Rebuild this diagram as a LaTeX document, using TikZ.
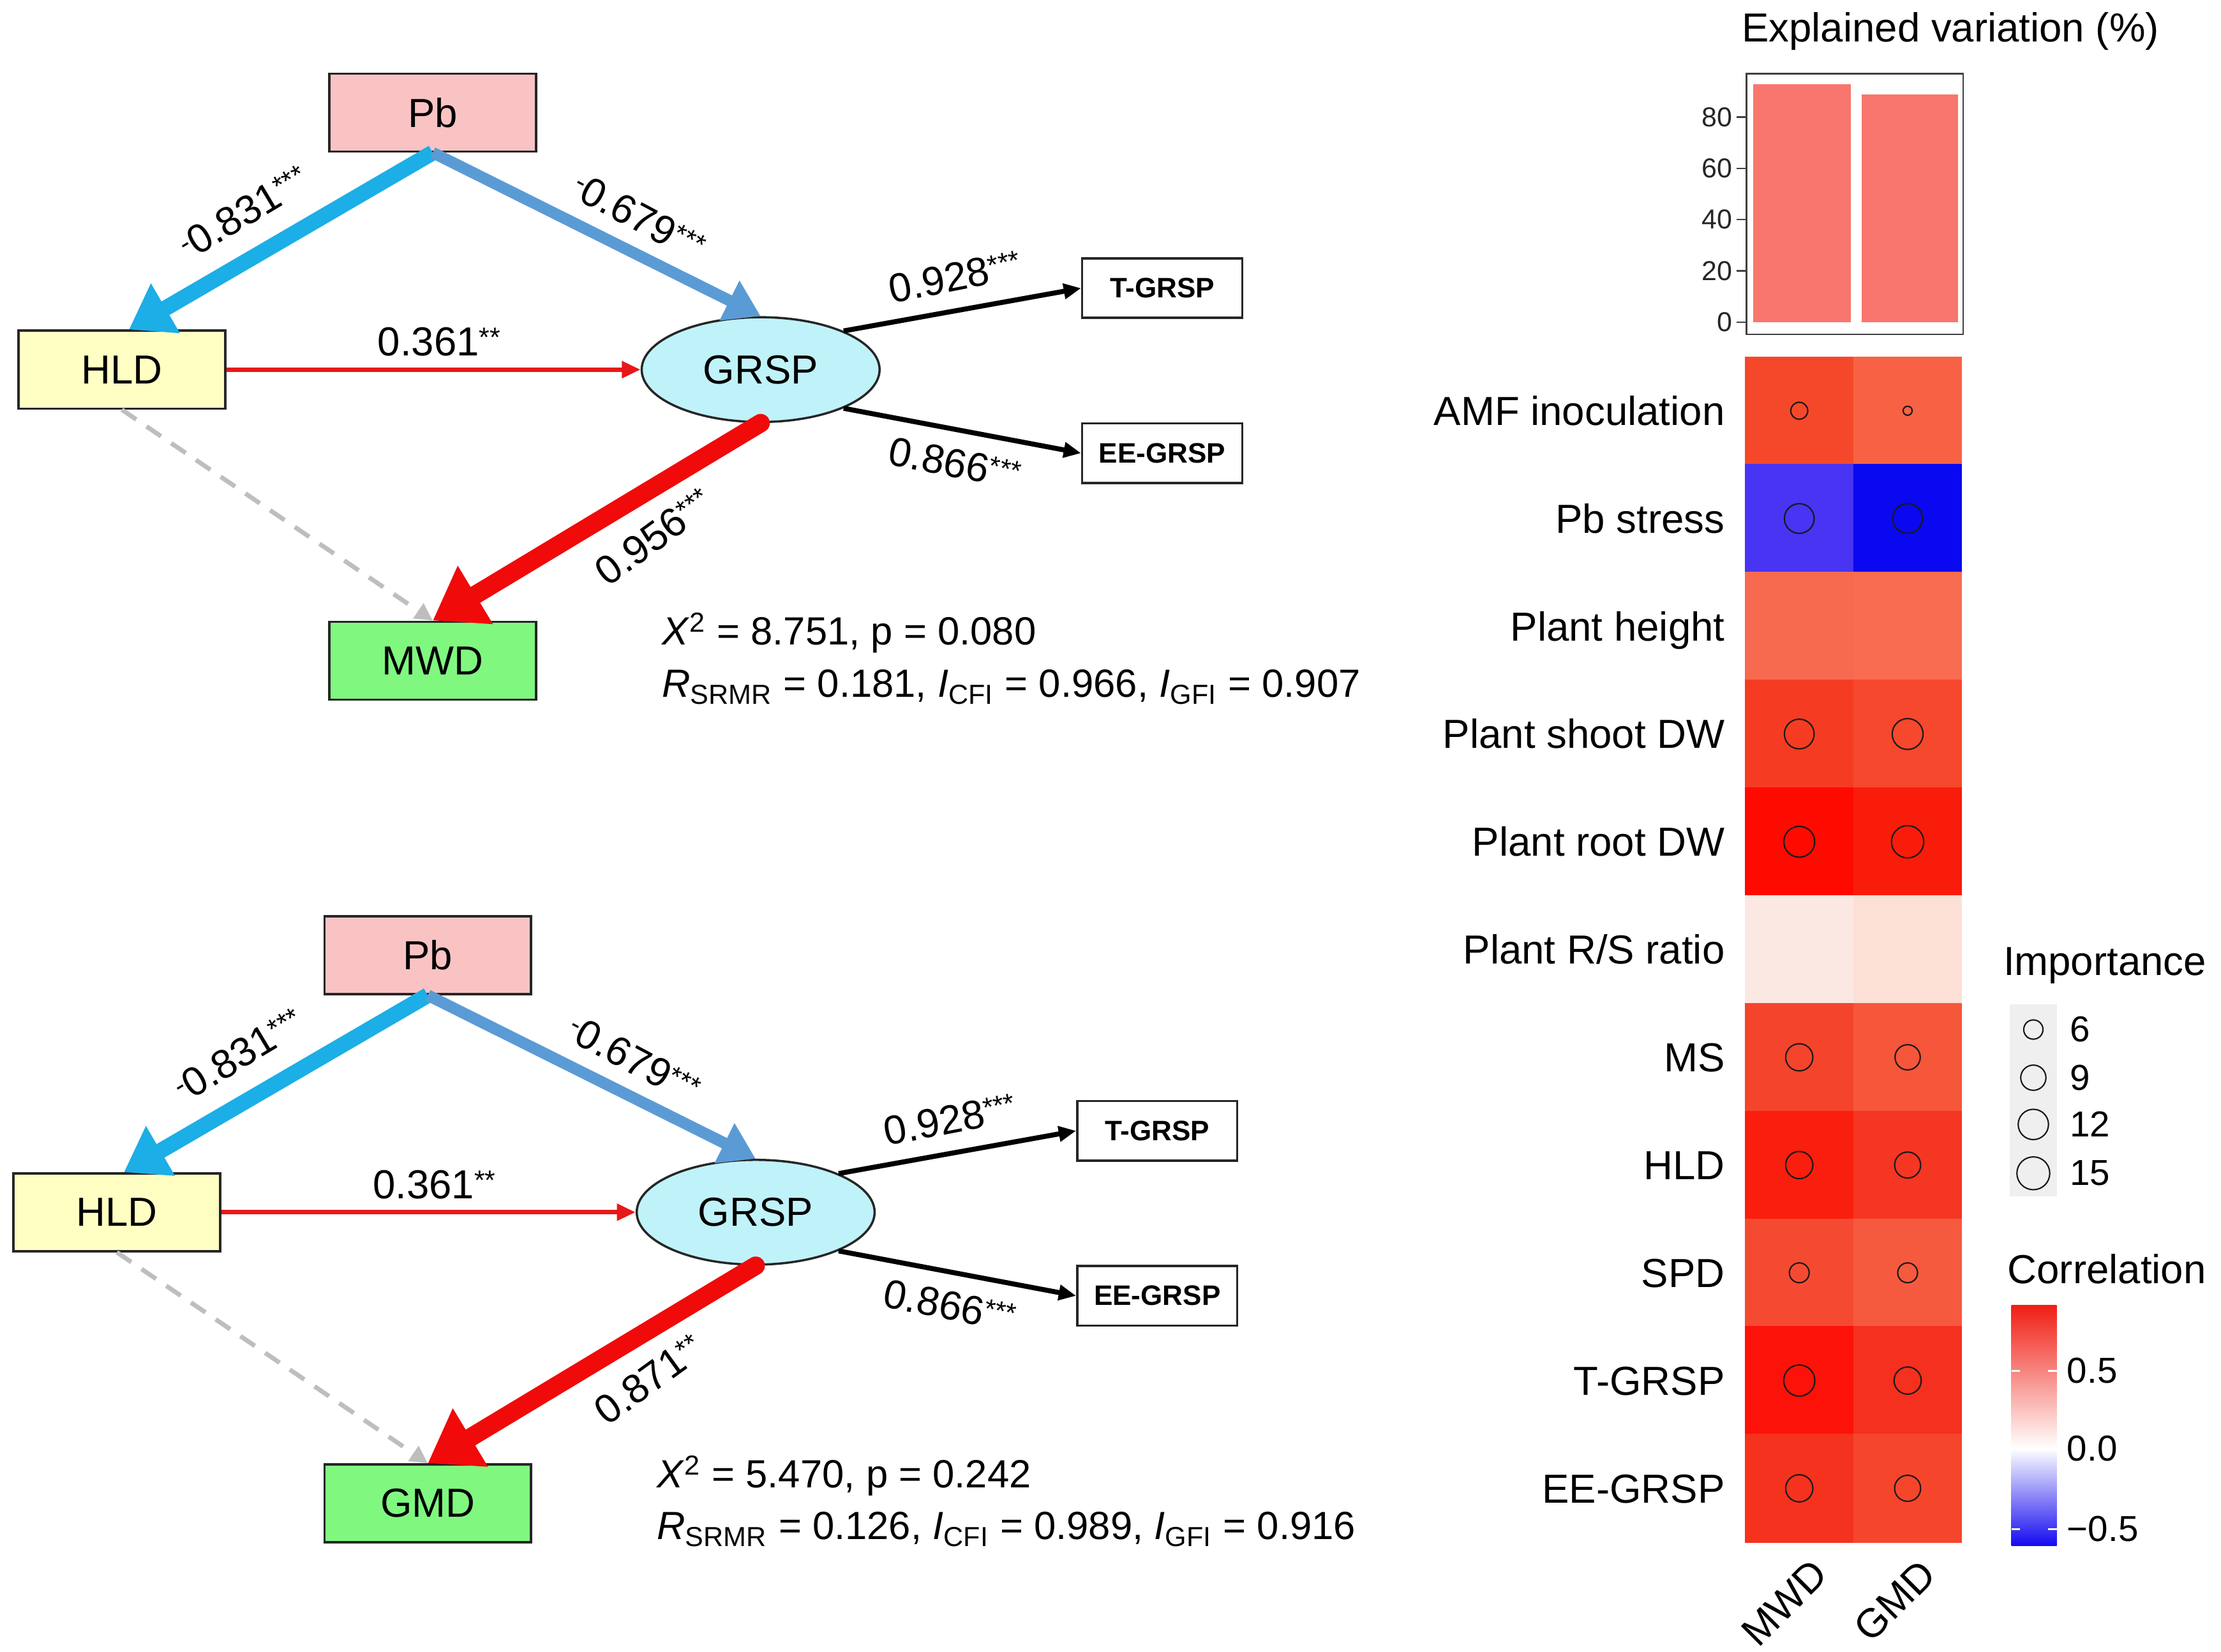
\documentclass[tikz,border=0pt]{standalone}
\usepackage{fontspec}
\setmainfont{Liberation Sans}
\usetikzlibrary{arrows.meta,shapes.geometric}

\definecolor{pbfill}{HTML}{F9C3C4}
\definecolor{hldfill}{HTML}{FFFFC4}
\definecolor{grspfill}{HTML}{C0F2FA}
\definecolor{outfill}{HTML}{80F880}
\definecolor{skyA}{HTML}{1CAEE6}
\definecolor{steelA}{HTML}{5B9BD5}
\definecolor{redA}{HTML}{F00A0A}
\definecolor{redB}{HTML}{E81818}
\definecolor{dashgrey}{HTML}{BEBEBE}
\definecolor{barfill}{HTML}{F8766D}
\definecolor{legbg}{HTML}{EFEFEF}
\definecolor{cbred}{RGB}{240,30,20}
\definecolor{cbblue}{RGB}{20,10,240}

\definecolor{c0a}{RGB}{245,72,42}   \definecolor{c0b}{RGB}{247,98,68}
\definecolor{c1a}{RGB}{72,52,242}   \definecolor{c1b}{RGB}{10,8,240}
\definecolor{c2a}{RGB}{247,106,80}  \definecolor{c2b}{RGB}{248,108,82}
\definecolor{c3a}{RGB}{245,60,34}   \definecolor{c3b}{RGB}{246,72,44}
\definecolor{c4a}{RGB}{254,10,0}    \definecolor{c4b}{RGB}{249,28,10}
\definecolor{c5a}{RGB}{252,232,226} \definecolor{c5b}{RGB}{252,224,214}
\definecolor{c6a}{RGB}{245,68,44}   \definecolor{c6b}{RGB}{246,86,58}
\definecolor{c7a}{RGB}{250,30,14}   \definecolor{c7b}{RGB}{245,54,34}
\definecolor{c8a}{RGB}{245,74,50}   \definecolor{c8b}{RGB}{246,90,62}
\definecolor{c9a}{RGB}{252,18,8}    \definecolor{c9b}{RGB}{245,48,30}
\definecolor{c10a}{RGB}{245,50,30}  \definecolor{c10b}{RGB}{245,70,44}

\newcommand\pxu{0.569pt}
\newcommand\mainfs{\fontsize{16.3}{19.5}\selectfont}
\newcommand\statfs{\fontsize{15.8}{19}\selectfont}
\newcommand\smallfs{\fontsize{11.3}{13.5}\selectfont}
\newcommand\legfs{\fontsize{14.5}{17}\selectfont}
\newcommand\tickfs{\fontsize{11}{13}\selectfont}
\newcommand\sig[1]{\raisebox{3.6pt}{\fontsize{11}{11}\selectfont #1}}

\tikzset{
  lab/.style={font=\mainfs, inner sep=0pt},
  varbox/.style={draw=black!85, line width=0.9pt, rectangle, inner sep=0pt, font=\mainfs,
    minimum width=146*\pxu, minimum height=55*\pxu},
  indbox/.style={draw=black!85, line width=0.9pt, fill=white, inner sep=0pt,
    font=\smallfs\bfseries, minimum width=113*\pxu, minimum height=42*\pxu},
  latent/.style={draw=black!85, line width=0.9pt, ellipse, fill=grspfill, inner sep=0pt,
    font=\mainfs, minimum width=168*\pxu, minimum height=74*\pxu},
  pathA/.style={draw=skyA, line width=6.3pt, -{Triangle[length=17pt,width=22pt]}},
  pathB/.style={draw=steelA, line width=4.6pt, -{Triangle[length=14pt,width=17pt]}},
  pathC/.style={draw=redA, line width=7.4pt, line cap=round, -{Triangle[length=20pt,width=26pt]}},
  pathD/.style={draw=redB, line width=1.8pt, -{Triangle[length=7.5pt,width=6.5pt]}},
  pathE/.style={draw=black, line width=2pt, -{Triangle[length=7pt,width=6pt]}},
  pathF/.style={draw=dashgrey, line width=1.8pt, dash pattern=on 7pt off 5pt,
    -{Triangle[length=7pt,width=7pt]}},
  circ/.style={draw=black!90, line width=0.55pt},
}

% SEM diagram: #1 prefix, #2 output, #3 coefficient, #4 chi line, #5 fit line
\newcommand\semdiag[5]{%
  \node[varbox, fill=pbfill] (#1pb) at (305.5,79.5) {Pb};
  \node[varbox, fill=hldfill] (#1hld) at (86,261) {HLD};
  \node[latent] (#1grsp) at (537,261) {GRSP};
  \node[indbox] (#1t) at (820.5,203.5) {T-GRSP};
  \node[indbox] (#1ee) at (820.5,320) {EE-GRSP};
  \node[varbox, fill=outfill] (#1out) at (305.5,466.5) {#2};
  \draw[pathF] (#1hld.south) -- (#1out.north);
  \draw[pathA] (#1pb.south) -- (#1hld.80);
  \draw[pathB] (#1pb.south) -- (#1grsp.north);
  \draw[pathD] (#1hld.east) -- (#1grsp.west);
  \draw[pathE] (#1grsp.25) -- (#1t.west);
  \draw[pathE] (#1grsp.-25) -- (#1ee.west);
  \draw[pathC] (#1grsp.south) -- (#1out.north);
  \node[lab, rotate=31] (#1l1) at (172,150) {\sig{-}0.831\sig{***}};
  \node[lab, rotate=-28] (#1l2) at (451,153) {\sig{-}0.679\sig{***}};
  \node[lab] (#1l3) at (310,241.5) {0.361\sig{**}};
  \node[lab, rotate=11] (#1l4) at (674,195.5) {0.928\sig{***}};
  \node[lab, rotate=-11] (#1l5) at (674,327) {0.866\sig{***}};
  \node[lab, rotate=36] (#1l6) at (461.5,379) {#3};
  \node[lab, font=\statfs, anchor=west] (#1s1) at (467,447) {#4};
  \node[lab, font=\statfs, anchor=west] (#1s2) at (467,485) {#5};
}

% heatmap row: #1 index, #2 label, #3 colour MWD, #4 colour GMD
\newcommand\hrow[4]{%
  \pgfmathsetmacro\ytop{252+#1*76.09}
  \fill[#3] (1232,\ytop-0.3) rectangle (1308.8,\ytop+76.4);
  \fill[#4] (1308.5,\ytop-0.3) rectangle (1385,\ytop+76.4);
  \node[lab, anchor=base east] (rl#1) at (1218,\ytop+38.05+10.2) {#2};
}

\begin{document}
\begin{tikzpicture}[x=0.02cm,y=-0.02cm]
\useasboundingbox (0,0) rectangle (1568,1166.5);
\fill[white] (0,0) rectangle (1568,1166.5);

\semdiag{a}{MWD}{0.956\sig{***}}{\textit{X}\textsuperscript{2} = 8.751, p = 0.080}{\textit{R}\textsubscript{SRMR} = 0.181, \textit{I}\textsubscript{CFI} = 0.966, \textit{I}\textsubscript{GFI} = 0.907}
\begin{scope}[shift={(-3.5,595)}]
\semdiag{b}{GMD}{0.871\sig{**}}{\textit{X}\textsuperscript{2} = 5.470, p = 0.242}{\textit{R}\textsubscript{SRMR} = 0.126, \textit{I}\textsubscript{CFI} = 0.989, \textit{I}\textsubscript{GFI} = 0.916}
\end{scope}

% explained variation bars
\node[lab] (evtitle) at (1377,22) {Explained variation (\%)};
\fill[barfill] (1237.5,227.5) rectangle (1306.5,59.5);
\fill[barfill] (1314.5,227.5) rectangle (1382.5,66.5);
\draw[black!75, line width=0.6pt] (1233,52) rectangle (1386,236);
\foreach \v in {0,20,40,60,80}{
  \draw[black!75, line width=0.6pt] (1226,{227.5-\v*1.81}) -- (1233,{227.5-\v*1.81});
  \node[lab, font=\tickfs, anchor=east, text=black!85] (tk\v) at (1223.5,{227.5-\v*1.81}) {\v};
}

% heatmap
\hrow{0}{AMF inoculation}{c0a}{c0b}
\hrow{1}{Pb stress}{c1a}{c1b}
\hrow{2}{Plant height}{c2a}{c2b}
\hrow{3}{Plant shoot DW}{c3a}{c3b}
\hrow{4}{Plant root DW}{c4a}{c4b}
\hrow{5}{Plant R/S ratio}{c5a}{c5b}
\hrow{6}{MS}{c6a}{c6b}
\hrow{7}{HLD}{c7a}{c7b}
\hrow{8}{SPD}{c8a}{c8b}
\hrow{9}{T-GRSP}{c9a}{c9b}
\hrow{10}{EE-GRSP}{c10a}{c10b}
\foreach \r/\c/\rad in {0/0/6, 0/1/3.2, 1/0/10.5, 1/1/10.5, 3/0/10.5, 3/1/10.9, 4/0/10.9, 4/1/11.4,
  6/0/9.6, 6/1/8.9, 7/0/9.6, 7/1/9.2, 8/0/7, 8/1/7, 9/0/11, 9/1/9.6, 10/0/9.6, 10/1/9.2}
  \draw[circ] ({1270.25+\c*76.5},{252+\r*76.09+38.05}) circle[radius=\rad];

\node[lab, rotate=45, anchor=north east] (xl1) at (1278,1099) {MWD};
\node[lab, rotate=45, anchor=north east] (xl2) at (1354,1099) {GMD};

% importance legend
\node[lab, anchor=west] (imptitle) at (1414,682) {Importance};
\fill[legbg] (1419,709) rectangle (1452,845);
\foreach \yy/\rad/\t in {727/6.8/6, 761/8.9/9, 794/10.7/12, 828.5/11.6/15}{
  \draw[circ] (1435.5,\yy) circle[radius=\rad];
  \node[lab, font=\legfs, anchor=west] (imp\t) at (1461,\yy) {\t};
}

% correlation legend
\node[lab, anchor=west] (cortitle) at (1417,896) {Correlation};
\shade[top color=cbred, bottom color=white] (1420,921.5) rectangle (1452,1023);
\shade[top color=white, bottom color=cbblue] (1420,1023) rectangle (1452,1091.6);
\foreach \yy/\t [count=\k] in {968/0.5, 1023/0.0, 1079.6/−0.5}{
  \draw[white, line width=0.8pt] (1420,\yy) -- (1426,\yy) (1446,\yy) -- (1452,\yy);
  \node[lab, font=\legfs, anchor=west] (cb\k) at (1459,\yy) {\t};
}
\end{tikzpicture}
\end{document}
